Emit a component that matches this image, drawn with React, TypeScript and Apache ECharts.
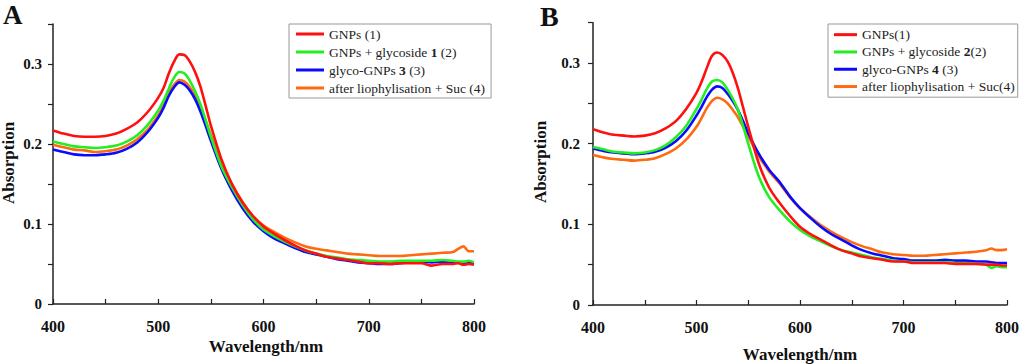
import React, { useEffect, useRef } from "react";
import * as echarts from "echarts";

const FONT = "'Liberation Serif', 'Times New Roman', serif";

const WL = [400, 410, 420, 430, 440, 450, 460, 470, 480, 490, 500, 505, 510, 515, 520, 525, 530, 535, 540, 545, 550, 560, 570, 580, 590, 600, 610, 620, 630, 640, 650, 660, 670, 680, 690, 700, 710, 720, 730, 740, 750, 760, 770, 780, 785, 790, 795, 800];

// Panel A
const A_RED = [0.217, 0.213, 0.210, 0.209, 0.209, 0.210, 0.213, 0.219, 0.227, 0.240, 0.258, 0.270, 0.288, 0.303, 0.312, 0.311, 0.303, 0.290, 0.272, 0.248, 0.223, 0.181, 0.150, 0.127, 0.110, 0.097, 0.088, 0.080, 0.073, 0.067, 0.063, 0.059, 0.057, 0.055, 0.053, 0.051, 0.051, 0.050, 0.051, 0.051, 0.051, 0.048, 0.050, 0.050, 0.051, 0.049, 0.050, 0.049];
const A_GREEN = [0.203, 0.200, 0.197, 0.196, 0.195, 0.196, 0.198, 0.203, 0.211, 0.224, 0.242, 0.254, 0.269, 0.283, 0.290, 0.288, 0.279, 0.266, 0.250, 0.230, 0.209, 0.172, 0.146, 0.124, 0.106, 0.093, 0.085, 0.078, 0.072, 0.067, 0.063, 0.060, 0.058, 0.056, 0.055, 0.054, 0.053, 0.053, 0.054, 0.054, 0.054, 0.054, 0.055, 0.054, 0.053, 0.053, 0.054, 0.052];
const A_BLUE = [0.193, 0.190, 0.187, 0.186, 0.186, 0.187, 0.189, 0.194, 0.202, 0.215, 0.233, 0.245, 0.260, 0.271, 0.277, 0.274, 0.267, 0.256, 0.241, 0.223, 0.204, 0.169, 0.142, 0.120, 0.103, 0.091, 0.082, 0.076, 0.070, 0.065, 0.062, 0.059, 0.056, 0.054, 0.052, 0.051, 0.050, 0.050, 0.051, 0.052, 0.053, 0.052, 0.053, 0.051, 0.052, 0.050, 0.051, 0.051];
const A_ORANGE = [0.199, 0.196, 0.193, 0.192, 0.190, 0.191, 0.193, 0.198, 0.206, 0.218, 0.236, 0.248, 0.263, 0.274, 0.280, 0.278, 0.271, 0.260, 0.246, 0.229, 0.211, 0.176, 0.150, 0.128, 0.110, 0.098, 0.090, 0.083, 0.077, 0.072, 0.069, 0.067, 0.065, 0.063, 0.062, 0.061, 0.060, 0.060, 0.060, 0.061, 0.062, 0.063, 0.064, 0.065, 0.069, 0.072, 0.066, 0.066];

// Panel B
const B_RED = [0.218, 0.214, 0.211, 0.210, 0.209, 0.210, 0.213, 0.219, 0.228, 0.243, 0.263, 0.277, 0.294, 0.309, 0.313, 0.310, 0.302, 0.288, 0.269, 0.245, 0.221, 0.176, 0.146, 0.127, 0.111, 0.097, 0.088, 0.081, 0.074, 0.068, 0.064, 0.060, 0.058, 0.056, 0.054, 0.054, 0.052, 0.052, 0.052, 0.052, 0.051, 0.051, 0.051, 0.050, 0.050, 0.050, 0.049, 0.049];
const B_GREEN = [0.196, 0.193, 0.190, 0.189, 0.188, 0.189, 0.192, 0.198, 0.208, 0.222, 0.243, 0.255, 0.268, 0.277, 0.279, 0.276, 0.267, 0.256, 0.242, 0.222, 0.200, 0.160, 0.134, 0.118, 0.104, 0.093, 0.085, 0.079, 0.073, 0.068, 0.065, 0.062, 0.059, 0.057, 0.055, 0.054, 0.053, 0.053, 0.053, 0.053, 0.052, 0.052, 0.051, 0.050, 0.046, 0.048, 0.047, 0.047];
const B_BLUE = [0.194, 0.191, 0.189, 0.188, 0.187, 0.188, 0.190, 0.195, 0.203, 0.216, 0.235, 0.246, 0.258, 0.267, 0.271, 0.269, 0.262, 0.253, 0.242, 0.228, 0.213, 0.188, 0.168, 0.153, 0.135, 0.120, 0.108, 0.097, 0.088, 0.081, 0.074, 0.068, 0.064, 0.061, 0.058, 0.057, 0.055, 0.055, 0.055, 0.056, 0.055, 0.055, 0.054, 0.054, 0.053, 0.052, 0.052, 0.052];
const B_ORANGE = [0.186, 0.183, 0.181, 0.180, 0.179, 0.180, 0.182, 0.187, 0.194, 0.205, 0.221, 0.232, 0.244, 0.253, 0.257, 0.255, 0.250, 0.242, 0.233, 0.221, 0.209, 0.185, 0.166, 0.151, 0.134, 0.120, 0.109, 0.099, 0.091, 0.084, 0.078, 0.073, 0.069, 0.065, 0.063, 0.062, 0.061, 0.061, 0.062, 0.063, 0.064, 0.065, 0.066, 0.068, 0.070, 0.068, 0.068, 0.069];

const COLORS = ["#ff1010", "#22ee22", "#0a0aff", "#ff6a10"];

const A_NAMES = ["GNPs (1)", "GNPs + glycoside 1 (2)", "glyco-GNPs 3 (3)", "after liophylisation + Suc (4)"];
const A_LABELS = ["GNPs (1)", "GNPs + glycoside {b|1} (2)", "glyco-GNPs {b|3} (3)", "after liophylisation + Suc (4)"];
const B_NAMES = ["GNPs(1)", "GNPs + glycoside 2(2)", "glyco-GNPs 4 (3)", "after liophylisation + Suc(4)"];
const B_LABELS = ["GNPs(1)", "GNPs + glycoside {b|2}(2)", "glyco-GNPs {b|4} (3)", "after liophylisation + Suc(4)"];

const A_SERIES = [A_RED, A_GREEN, A_BLUE, A_ORANGE];
const B_SERIES = [B_RED, B_GREEN, B_BLUE, B_ORANGE];

const X_MIN = 400;
const X_MAX = 800;
const Y_MIN = 0;
const Y_MAX = 0.35;

function xAxis(idx: number) {
  return {
    type: "value",
    gridIndex: idx,
    min: X_MIN,
    max: X_MAX,
    interval: 50,
    axisLine: { show: true, onZero: false, lineStyle: { color: "#222", width: 1.5 } },
    axisTick: { show: true, inside: true, length: 5, lineStyle: { color: "#222", width: 1.2 } },
    splitLine: { show: false },
    axisLabel: {
      margin: 14,
      fontFamily: FONT,
      fontWeight: "bold",
      fontSize: 16,
      color: "#111",
      formatter: (v: number) => (v % 100 === 0 ? String(v) : ""),
    },
  };
}

function yAxis(idx: number, margin: number) {
  return {
    type: "value",
    gridIndex: idx,
    min: Y_MIN,
    max: Y_MAX,
    interval: 0.05,
    axisLine: { show: true, onZero: false, lineStyle: { color: "#222", width: 1.5 } },
    axisTick: { show: true, inside: false, length: 5, lineStyle: { color: "#222", width: 1.2 } },
    splitLine: { show: false },
    axisLabel: {
      margin,
      fontFamily: FONT,
      fontWeight: "bold",
      fontSize: 15,
      color: "#111",
      formatter: (v: number) => {
        const k = Math.round(v * 100);
        if (k % 10 !== 0 || k > 30) return "";
        return k === 0 ? "0" : (k / 100).toFixed(1);
      },
    },
  };
}

function legend(names: string[], labels: string[], left: number, top: number, iconW: number, textGap: number, lineH: number, pad: number[]) {
  const map: Record<string, string> = {};
  names.forEach((n, i) => (map[n] = labels[i]));
  return {
    orient: "vertical",
    left,
    top,
    data: names,
    icon: "rect",
    itemWidth: iconW,
    itemHeight: 3,
    itemGap: 0,
    itemTextGap: textGap,
    padding: pad,
    borderColor: "#999",
    borderWidth: 1,
    backgroundColor: "#fff",
    selectedMode: false,
    formatter: (n: string) => map[n],
    textStyle: {
      fontFamily: FONT,
      fontSize: 13.5,
      lineHeight: lineH,
      color: "#222",
      rich: {
        b: { fontFamily: FONT, fontSize: 13.5, fontWeight: "bold", lineHeight: lineH, color: "#222" },
      },
    },
  };
}

function makeSeries(names: string[], data: number[][], idx: number) {
  return names.map((n, i) => ({
    type: "line",
    name: n,
    xAxisIndex: idx,
    yAxisIndex: idx,
    data: WL.map((w, j) => [w, data[i][j]]),
    showSymbol: false,
    symbol: "none",
    smooth: 0.3,
    color: COLORS[i],
    lineStyle: { width: 2.6, color: COLORS[i] },
    z: 10 - i,
  }));
}

export default function App() {
  const ref = useRef<HTMLDivElement>(null);
  useEffect(() => {
    if (!ref.current) return;
    const chart = echarts.init(ref.current, null, { renderer: "svg" });
    chart.setOption({
      animation: false,
      backgroundColor: "#fff",
      grid: [
        { left: 53, top: 24, width: 421, height: 280 },
        { left: 593, top: 22.7, width: 414, height: 282.3 },
      ],
      xAxis: [xAxis(0), xAxis(1)],
      yAxis: [yAxis(0, 11), yAxis(1, 13)],
      legend: [
        legend(A_NAMES, A_LABELS, 289, 24, 28, 4, 18, [1, 6, 1, 7]),
        legend(B_NAMES, B_LABELS, 828, 24, 23, 3, 17.3, [2, 3, 2, 6]),
      ],
      series: [...makeSeries(A_NAMES, A_SERIES, 0), ...makeSeries(B_NAMES, B_SERIES, 1)],
      graphic: [
        { type: "text", left: 3, top: 1, style: { text: "A", font: `bold 27px ${FONT}`, fill: "#111" } },
        { type: "text", left: 540, top: 2, style: { text: "B", font: `bold 28px ${FONT}`, fill: "#111" } },
        {
          type: "text", x: 8, y: 163, rotation: Math.PI / 2,
          style: { text: "Absorption", font: `bold 17px ${FONT}`, fill: "#111", align: "center", verticalAlign: "middle" },
        },
        {
          type: "text", x: 540, y: 162, rotation: Math.PI / 2,
          style: { text: "Absorption", font: `bold 17px ${FONT}`, fill: "#111", align: "center", verticalAlign: "middle" },
        },
        {
          type: "text", x: 266, y: 346,
          style: { text: "Wavelength/nm", font: `bold 17px ${FONT}`, fill: "#111", align: "center", verticalAlign: "middle" },
        },
        {
          type: "text", x: 800, y: 354,
          style: { text: "Wavelength/nm", font: `bold 17px ${FONT}`, fill: "#111", align: "center", verticalAlign: "middle" },
        },
      ],
    });
    return () => chart.dispose();
  }, []);
  return (
    <div
      ref={ref}
      style={{ position: "fixed", left: 0, top: 0, width: 1024, height: 364, background: "#fff" }}
    />
  );
}
